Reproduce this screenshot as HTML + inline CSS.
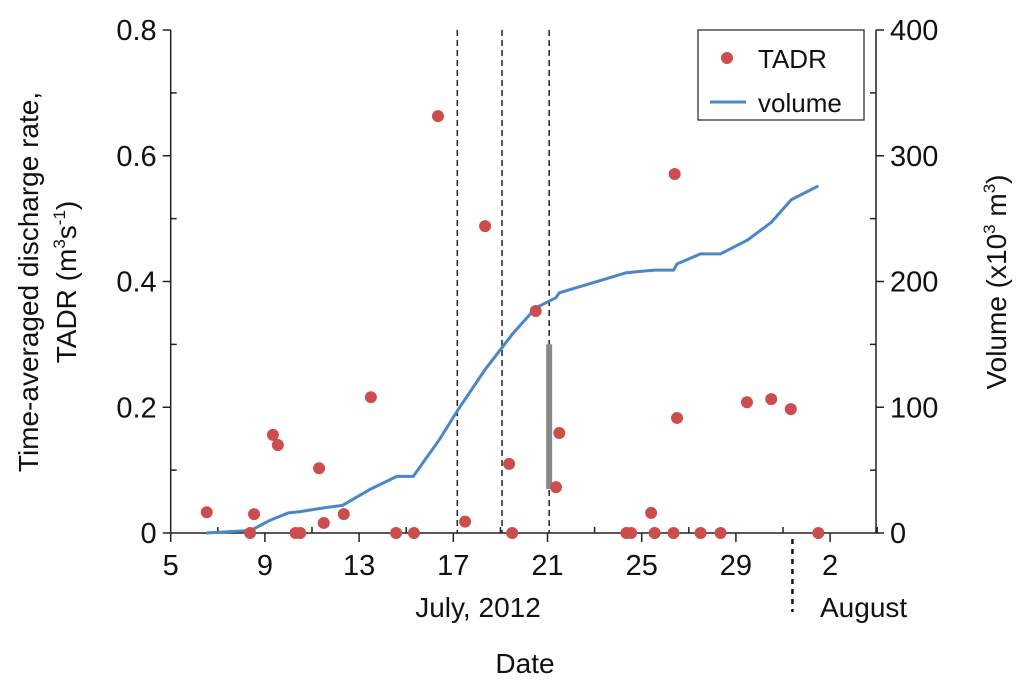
<!DOCTYPE html>
<html><head><meta charset="utf-8"><style>
body{margin:0;background:#fff;}
svg text{font-family:"Liberation Sans",sans-serif;fill:#111;}
</style></head><body>
<svg id="chart" width="1024" height="690" viewBox="0 0 1024 690" xmlns="http://www.w3.org/2000/svg">
</svg>
<script>
const tadrDays=[6.53,8.37,8.54,9.34,9.55,10.3,10.5,11.3,11.5,12.35,13.5,14.57,15.33,16.35,17.5,18.35,19.37,19.5,20.5,21.36,21.5,24.35,24.55,25.4,25.55,26.35,26.4,26.5,27.5,28.35,29.47,30.5,31.33,32.5];
const tadrValues=[0.033,0,0.03,0.156,0.14,0,0,0.103,0.016,0.03,0.216,0,0,0.663,0.018,0.488,0.11,0,0.353,0.073,0.159,0,0,0.032,0,0,0.571,0.183,0,0,0.208,0.213,0.197,0];
const volDays=[6.5,8.4,9.2,10,10.5,11.5,12.3,13.5,14.6,15.3,16.4,17.2,18.35,19.3,19.5,20.5,21.35,21.5,24.35,25.55,26.35,26.5,27.5,28.35,29.5,30.5,31.35,32.5];
const volValues=[0,2,10,16,17,20,22,35,45,45,74,98,130,153,158,179,187,191,207,209,209,214,222,222,233,247,265,276];
const xTickDays=[5,9,13,17,21,25,29,33];
const xTickLabels=["5","9","13","17","21","25","29","2"];
const yLeftTicks=[0,0.2,0.4,0.6,0.8];
const yLeftLabels=["0","0.2","0.4","0.6","0.8"];
const yRightTicks=[0,100,200,300,400];
const eventDays=[17.17,19.07,21.07];

const NS="http://www.w3.org/2000/svg";
const svg=document.getElementById('chart');
const X0=170.7,Y0=533,YT=30;
const xs=d=>X0+(d-5)*23.55;
const yl=v=>Y0-(v/0.8)*(Y0-YT);
const yr=v=>Y0-(v/400)*(Y0-YT);
function el(tag,attrs,parent){const e=document.createElementNS(NS,tag);for(const k in attrs)e.setAttribute(k,attrs[k]);(parent||svg).appendChild(e);return e;}
function txt(s,attrs){const t=el('text',attrs);t.textContent=s;return t;}

eventDays.forEach(d=>{const l=el('line',{x1:xs(d),x2:xs(d),y1:YT,y2:Y0,stroke:'#222','stroke-width':1.5,'stroke-dasharray':'6,4'});

});
const gb=el('rect',{x:xs(21.07)-3,y:yl(0.3),width:6,height:yl(0.07)-yl(0.3),fill:'#888'});


const dl=el('line',{x1:xs(31.4),x2:xs(31.4),y1:Y0+6,y2:612,stroke:'#111','stroke-width':2.5,'stroke-dasharray':'5,5'});



const ax=el('path',{d:`M${X0},${YT}V${Y0}H876V${YT}`,fill:'none',stroke:'#222','stroke-width':1.5});


for(let d=5;d<=35;d+=2){const big=xTickDays.includes(d);el('line',{x1:xs(d),x2:xs(d),y1:Y0,y2:Y0+(big?9:-6),stroke:'#222','stroke-width':1.5});}
xTickDays.forEach((d,i)=>{const t=txt(xTickLabels[i],{x:xs(d),y:Y0+42,'font-size':29,'text-anchor':'middle'});

});
yLeftTicks.forEach((v,i)=>{el('line',{x1:X0-8,x2:X0,y1:yl(v),y2:yl(v),stroke:'#222','stroke-width':1.5});
el('line',{x1:X0,x2:X0+6,y1:yl(v+0.1),y2:yl(v+0.1),stroke:'#222','stroke-width':1.5});
const t=txt(yLeftLabels[i],{x:X0-14,y:yl(v)+10,'font-size':29,'text-anchor':'end'});

});
yRightTicks.forEach(v=>{el('line',{x1:876,x2:884,y1:yr(v),y2:yr(v),stroke:'#222','stroke-width':1.5});
el('line',{x1:876,x2:870,y1:yr(v+50),y2:yr(v+50),stroke:'#222','stroke-width':1.5});
const t=txt(String(v),{x:890,y:yr(v)+10,'font-size':29});

});

const vl=el('polyline',{points:volDays.map((d,i)=>xs(d)+','+yr(volValues[i])).join(' '),fill:'none',stroke:'#4a86c8','stroke-width':3});


tadrDays.forEach((d,i)=>{const c=el('circle',{cx:xs(d),cy:yl(tadrValues[i]),r:6,fill:'#cc4d4d'});

});

const lg=el('g',{});


el('rect',{x:698,y:30,width:166,height:90,fill:'#fff',stroke:'#222','stroke-width':1.2},lg);
el('circle',{cx:727,cy:58,r:6,fill:'#cc4d4d'},lg);
el('line',{x1:710,x2:746,y1:102,y2:102,stroke:'#4a86c8','stroke-width':3},lg);
const l1=txt('TADR',{x:758,y:68,'font-size':26});lg.appendChild(l1);
const l2=txt('volume',{x:758,y:112,'font-size':26});lg.appendChild(l2);

const xt=txt('Date',{x:525,y:673,'font-size':28,'text-anchor':'middle'});


const jt=txt('July, 2012',{x:478,y:617,'font-size':28,'text-anchor':'middle'});


const at=txt('August',{x:820,y:617,'font-size':28});


const y1=el('text',{transform:'translate(38,282) rotate(-90)','font-size':28,'text-anchor':'middle'});
y1.innerHTML='Time-averaged discharge rate,';


const y2=el('text',{transform:'translate(76,282) rotate(-90)','font-size':28,'text-anchor':'middle'});
y2.innerHTML='TADR (m<tspan font-size="17" dy="-11">3</tspan><tspan dy="11">s</tspan><tspan font-size="17" dy="-11">-1</tspan><tspan dy="11">)</tspan>';


const y3=el('text',{transform:'translate(1006,282) rotate(-90)','font-size':28,'text-anchor':'middle'});
y3.innerHTML='Volume (x10<tspan font-size="17" dy="-11">3</tspan><tspan dy="11"> m</tspan><tspan font-size="17" dy="-11">3</tspan><tspan dy="11">)</tspan>';


</script>
</body></html>
